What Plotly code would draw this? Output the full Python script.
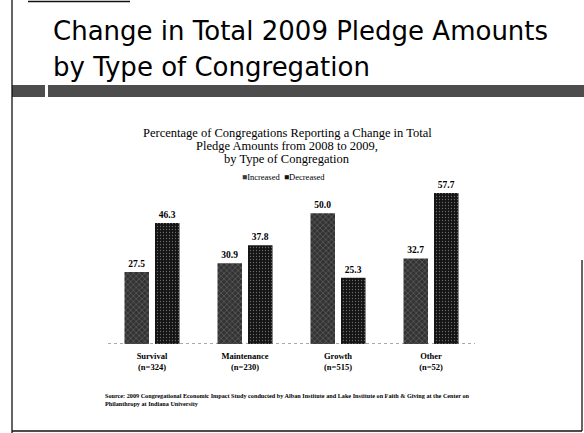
import plotly.graph_objects as go

# Data
categories = ["Survival", "Maintenance", "Growth", "Other"]
sample_sizes = ["(n=324)", "(n=230)", "(n=515)", "(n=52)"]
increased = [27.5, 30.9, 50.0, 32.7]
decreased = [46.3, 37.8, 25.3, 57.7]

W, H = 584, 433
# plot area in pixels
PL, PR, PT, PB = 108, 475, 180, 344


def px(x, y):
    """Convert page pixel coordinates to paper coordinates."""
    return (x - PL) / (PR - PL), (PB - y) / (PB - PT)


serif = "Liberation Serif, Times New Roman, serif"
sans = "DejaVu Sans, sans-serif"

tick_text = [f"{c}<br>{n}" for c, n in zip(categories, sample_sizes)]

fig = go.Figure()
fig.add_trace(go.Bar(
    x=categories, y=increased, name="Increased",
    marker=dict(color="#333333", line=dict(width=0),
                pattern=dict(shape="x", fgcolor="#a8a8a8", size=4, solidity=0.25)),
    text=[f"{v:.1f}" for v in increased], textposition="outside",
    textfont=dict(family=serif, size=9.5, color="#000", weight="bold"),
    cliponaxis=False,
))
fig.add_trace(go.Bar(
    x=categories, y=decreased, name="Decreased",
    marker=dict(color="#141414", line=dict(width=0),
                pattern=dict(shape=".", fgcolor="#bdbdbd", size=3, solidity=0.15)),
    text=[f"{v:.1f}" for v in decreased], textposition="outside",
    textfont=dict(family=serif, size=9.5, color="#000", weight="bold"),
    cliponaxis=False,
))

shapes = []
# dotted baseline
shapes.append(dict(type="line", xref="paper", yref="y", x0=0, x1=1, y0=0, y1=0,
                   line=dict(color="#555", width=1, dash="dot")))
# slide frame
for (x0, y0, x1, y1) in [(12, 0, 12, 433), (12, 431, 582, 431), (582, 260, 582, 431),
                         (28, 1.5, 130, 1.5)]:
    a, b = px(x0, y0)
    c, d = px(x1, y1)
    shapes.append(dict(type="line", xref="paper", yref="paper", x0=a, y0=b, x1=c, y1=d,
                       line=dict(color="#111", width=1.3)))
# textured band under the heading
for (x0, x1) in [(12, 45), (48, 584)]:
    a, b = px(x0, 85)
    c, d = px(x1, 97)
    shapes.append(dict(type="rect", xref="paper", yref="paper", x0=a, y0=d, x1=c, y1=b,
                       fillcolor="#4d4d4d", line=dict(width=0), layer="below"))

annotations = []


def note(text, x, y, size, family, xanchor="center", yanchor="middle", weight="normal", align="center"):
    a, b = px(x, y)
    annotations.append(dict(text=text, x=a, y=b, xref="paper", yref="paper",
                            xanchor=xanchor, yanchor=yanchor, showarrow=False, align=align,
                            font=dict(family=family, size=size, color="#000", weight=weight)))


note("Change in Total 2009 Pledge Amounts", 51, 48, 26, sans, xanchor="left", yanchor="bottom")
note("by Type of Congregation", 51, 84, 26, sans, xanchor="left", yanchor="bottom")
note("Percentage of Congregations Reporting a Change in Total", 287, 133, 12.5, serif)
note("Pledge Amounts from 2008 to 2009,", 287, 146, 12.5, serif)
note("by Type of Congregation", 287, 159, 12.5, serif)
note("<span style='color:#3c3c3c'>■</span>Increased  <span style='color:#141414'>■</span>Decreased",
     283, 177, 8.5, serif)
note("Source: 2009 Congregational Economic Impact Study conducted by Alban Institute and Lake Institute on Faith &amp; Giving at the Center on<br>"
     "Philanthropy at Indiana University",
     103, 399, 6.2, serif, xanchor="left", weight="bold", align="left")

fig.update_layout(
    width=W, height=H,
    margin=dict(l=PL, r=W - PR, t=PT, b=H - PB, pad=0),
    paper_bgcolor="white", plot_bgcolor="white",
    barmode="group", bargap=0.344, bargroupgap=0.197,
    showlegend=False,
    shapes=shapes, annotations=annotations,
    xaxis=dict(range=[-0.473, 3.473], tickvals=categories, ticktext=tick_text,
               tickfont=dict(family=serif, size=8.5, color="#000", weight="bold"),
               showline=False, showgrid=False, zeroline=False, ticks="", ticklabelstandoff=5),
    yaxis=dict(range=[0, 62.7], visible=False, showgrid=False, zeroline=False),
)

fig.write_html("out.html")
